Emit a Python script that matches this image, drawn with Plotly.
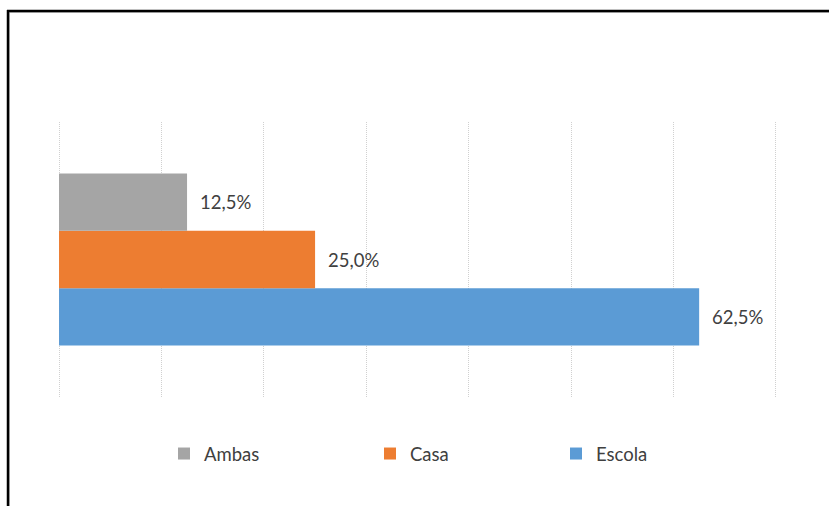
import plotly.graph_objects as go

categories = ["Escola", "Casa", "Ambas"]
values = [62.5, 25.0, 12.5]
colors = ["#5B9BD5", "#ED7D31", "#A5A5A5"]
positions = [0, 1, 2]
legend_ids = ["legend3", "legend2", "legend"]
legend_x_px = [556, 370, 164]
x_ticks = [0, 10, 20, 30, 40, 50, 60, 70]

W, H = 829, 506
L, R, T, B = 58, 52, 122, 109
FONT = "Lato"
TXT = "#404040"

fig = go.Figure()
for cat, val, col, pos, lg in zip(categories, values, colors, positions, legend_ids):
    fig.add_trace(go.Bar(
        x=[val], y=[pos], name=cat, orientation="h",
        marker=dict(color=col, line=dict(width=0)),
        width=1, legend=lg, hoverinfo="skip",
    ))
    fig.add_annotation(
        x=val, y=pos, xref="x", yref="y",
        text=f"{val:.1f}%".replace(".", ","),
        showarrow=False, xanchor="left", yanchor="middle", xshift=11,
        font=dict(family=FONT, size=18.5, color=TXT),
    )

pw = W - L - R
ph = H - T - B
def px_x(p):
    return (p - L) / pw
def px_y(p):
    return (H - B - p) / ph

fig.add_shape(type="line", xref="paper", yref="paper",
              x0=px_x(9), x1=px_x(830), y0=px_y(12.5), y1=px_y(12.5),
              line=dict(color="#C8C8C8", width=1))
fig.add_shape(type="line", xref="paper", yref="paper",
              x0=px_x(9.5), x1=px_x(9.5), y0=px_y(12), y1=px_y(510),
              line=dict(color="#C8C8C8", width=1))
fig.add_shape(type="line", xref="paper", yref="paper",
              x0=px_x(7), x1=px_x(830), y0=px_y(11), y1=px_y(11),
              line=dict(color="black", width=2.5))
fig.add_shape(type="line", xref="paper", yref="paper",
              x0=px_x(8), x1=px_x(8), y0=px_y(10), y1=px_y(510),
              line=dict(color="black", width=2.5))

legend_common = dict(
    orientation="h", xref="container", yref="container",
    yanchor="middle", y=1 - 454 / H,
    font=dict(family=FONT, size=18.5, color=TXT),
    bgcolor="rgba(0,0,0,0)", itemclick=False, itemdoubleclick=False,
)
legends = {}
for lg, xp in zip(legend_ids, legend_x_px):
    legends[lg] = dict(legend_common, x=xp / W, xanchor="left")

fig.update_layout(
    width=W, height=H,
    margin=dict(l=L, r=R, t=T, b=B, autoexpand=False),
    paper_bgcolor="white", plot_bgcolor="white",
    separators=",.",
    showlegend=True,
    hovermode=False,
    xaxis=dict(range=[-0.1, 70.1], tickvals=x_ticks, showticklabels=False,
               showgrid=True, gridcolor="#D0D0D0", griddash="1px,1px", gridwidth=1,
               zeroline=False, showline=False, ticks=""),
    yaxis=dict(range=[-1.4, 3.4], showticklabels=False, showgrid=False,
               zeroline=False, showline=False, ticks=""),
    **legends,
)

fig.write_html("out.html", config={"displayModeBar": False},
               post_script="document.body.style.margin='0';")
